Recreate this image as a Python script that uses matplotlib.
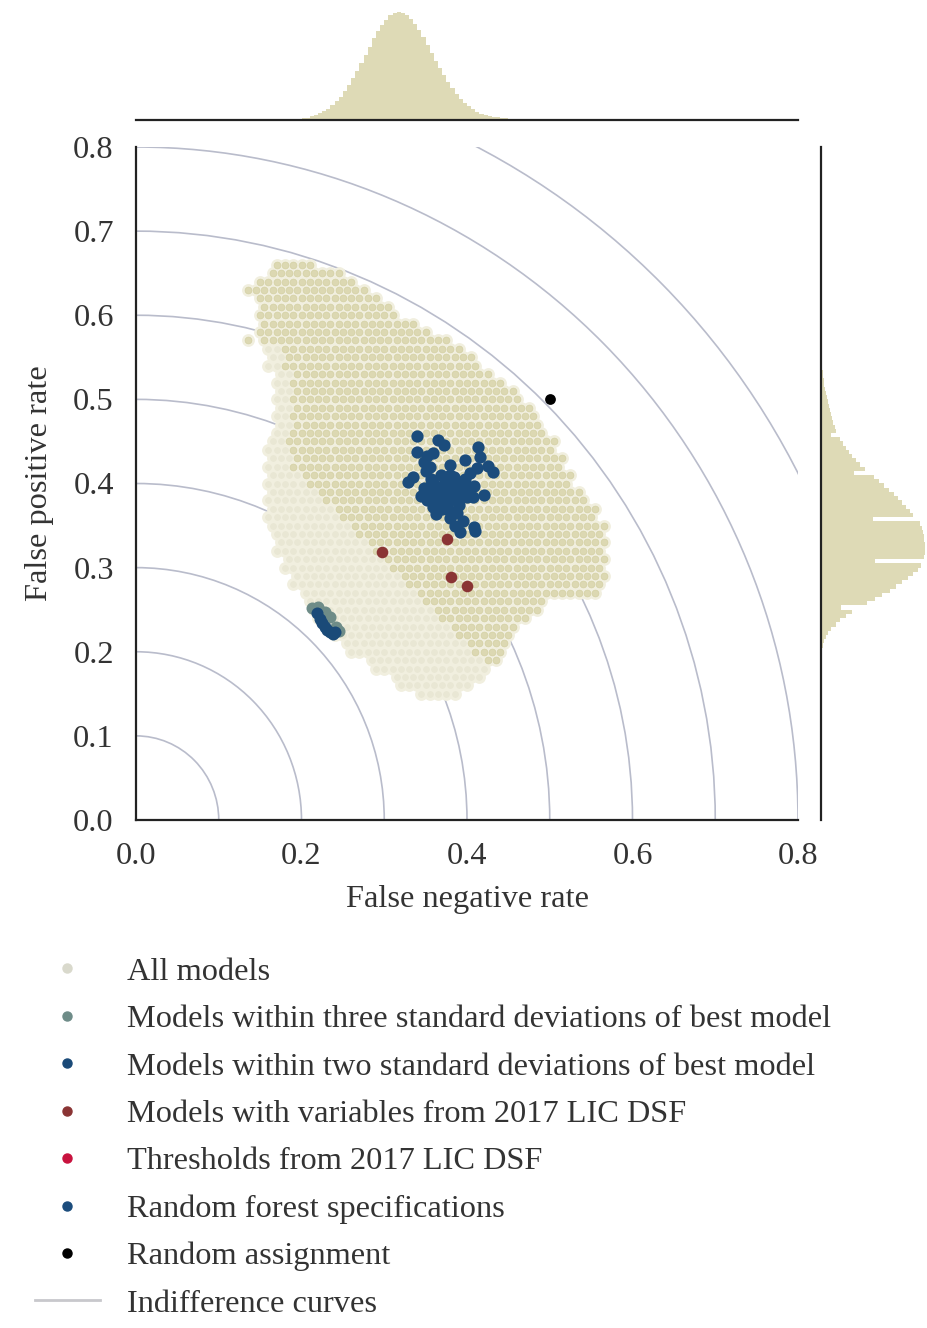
import numpy as np
import matplotlib
matplotlib.use('Agg')
import matplotlib.pyplot as plt
from matplotlib.patches import Arc
from matplotlib.lines import Line2D

plt.rcParams['font.family'] = ['Liberation Serif', 'DejaVu Serif']

# ---------------- data ----------------
# "All models" cloud, read from the picture as a point mask:
# one character per model, '#' = regular point, '+' = point in the paler zone.
cloud_x0 = 0.10
cloud_y0 = 0.66
cloud_step = 0.01
cloud_rows = [
    ".......#####",
    "......#########",
    ".....############",
    "...###############",
    ".....###############",
    ".....################",
    ".....#################",
    ".....###################",
    ".....#####################",
    "...#.#######################",
    "......++######################",
    "......++#######################",
    "......++########################",
    ".......++########################",
    ".......++##########################",
    ".......++###########################",
    ".......++############################",
    ".......++#############################",
    ".......++##############################",
    ".......++##############################",
    ".......++###############################",
    "......++#################################",
    "......+++################################",
    "......+++#################################",
    "......+++#################################",
    "......++++#################################",
    "......+++++################################",
    "......++++++################################",
    "......+++++++################################",
    "......++++++++################################",
    "......+++++++++###############################",
    "......++++++++++###############################",
    ".......++++++++++##############################",
    ".......+++++++++++#############################",
    ".......++++++++++++############################",
    "........++++++++++++###########################",
    "........+++++++++++++##########################",
    ".........+++++++++++++#########################",
    ".........++++++++++++++########################",
    "..........++++++++++++++######################",
    "...........++++++++++++++###############",
    "...........+++++++++++++++#############",
    "............+++++++++++++++###########",
    ".............+++++++++++++++########",
    "..............+++++++++++++++#######",
    "...............+++++++++++++++#####",
    "................+++++++++++++++####",
    "..................++++++++++++++##",
    "...................++++++++++++++",
    ".....................+++++++++++",
    "......................+++++++++",
    "........................+++++",
]

# marginal histograms (relative heights, bin width 0.005)
fnr_bin_centers = [0.1925, 0.1975, 0.2025, 0.2075, 0.2125, 0.2175, 0.2225, 0.2275, 0.2325, 0.2375,
                   0.2425, 0.2475, 0.2525, 0.2575, 0.2625, 0.2675, 0.2725, 0.2775, 0.2825, 0.2875,
                   0.2925, 0.2975, 0.3025, 0.3075, 0.3125, 0.3175, 0.3225, 0.3275, 0.3325, 0.3375,
                   0.3425, 0.3475, 0.3525, 0.3575, 0.3625, 0.3675, 0.3725, 0.3775, 0.3825, 0.3875,
                   0.3925, 0.3975, 0.4025, 0.4075, 0.4125, 0.4175, 0.4225, 0.4275, 0.4325, 0.4375,
                   0.4425, 0.4475, 0.4525, 0.4575]
fnr_counts = [0.8, 1.1, 1.7, 2.3, 3.3, 4.4, 6.1, 8, 10.5, 13.5,
              17.3, 21.6, 26.8, 32.5, 39, 45.8, 53, 60.6, 68, 75.5,
              82, 88.2, 93, 96.9, 99, 100, 99, 97, 93.5, 89,
              83.5, 77, 69.5, 62, 55, 48, 41.5, 35, 29.5, 24,
              19.8, 16, 12.8, 10, 7.8, 6, 4.8, 4, 3.1, 2.5,
              1.9, 1.5, 1.2, 0.8]

fpr_bin_centers = [0.2025, 0.2075, 0.2125, 0.2175, 0.2225, 0.2275, 0.2325, 0.2375, 0.2425, 0.2475,
                   0.2525, 0.2575, 0.2625, 0.2675, 0.2725, 0.2775, 0.2825, 0.2875, 0.2925, 0.2975,
                   0.3025, 0.3075, 0.3125, 0.3175, 0.3225, 0.3275, 0.3325, 0.3375, 0.3425, 0.3475,
                   0.3525, 0.3575, 0.3625, 0.3675, 0.3725, 0.3775, 0.3825, 0.3875, 0.3925, 0.3975,
                   0.4025, 0.4075, 0.4125, 0.4175, 0.4225, 0.4275, 0.4325, 0.4375, 0.4425, 0.4475,
                   0.4525, 0.4575, 0.4625, 0.4675, 0.4725, 0.4775, 0.4825, 0.4875, 0.4925, 0.4975,
                   0.5025, 0.5075, 0.5125, 0.5175, 0.5225, 0.5275, 0.5325, 0.5375, 0.5425, 0.5475]
fpr_counts = [1, 2, 3, 5, 7, 10, 14, 18, 24, 30,
              19, 44, 52, 59, 66, 72, 78, 84, 89, 93,
              96, 52, 99, 100, 100, 100, 99.5, 99, 98, 97,
              95, 50, 89, 86, 82, 78, 74, 70, 65, 61,
              56, 51, 32, 42, 38, 34, 30, 27, 24, 21,
              18, 10, 14, 13, 12, 11, 10, 9, 8, 7,
              6, 5, 4, 3, 2.5, 2, 1.5, 1, 0.7, 0.5]

# Models within three standard deviations of best model
three_sd_x = [0.213, 0.220, 0.228, 0.234, 0.242, 0.245]
three_sd_y = [0.252, 0.253, 0.247, 0.241, 0.230, 0.225]

# Models within two standard deviations of best model
two_sd_x = [0.219, 0.222, 0.225, 0.228, 0.231, 0.235, 0.238, 0.241]
two_sd_y = [0.246, 0.239, 0.234, 0.230, 0.226, 0.223, 0.221, 0.224]

# Models with variables from 2017 LIC DSF
lic_var_x = [0.297, 0.376, 0.381, 0.400]
lic_var_y = [0.318, 0.334, 0.289, 0.278]

# Thresholds from 2017 LIC DSF (not visible in the plot area)
thresh_x = []
thresh_y = []

# Random forest specifications
rf_x = [0.339, 0.365, 0.372, 0.340, 0.352, 0.359, 0.348, 0.379, 0.398, 0.413,
        0.416, 0.425, 0.431, 0.329, 0.335, 0.350, 0.356, 0.348, 0.358, 0.352,
        0.362, 0.366, 0.368, 0.374, 0.376, 0.372, 0.382, 0.386, 0.390, 0.394,
        0.398, 0.404, 0.408, 0.400, 0.412, 0.384, 0.378, 0.366, 0.357, 0.420,
        0.407, 0.379, 0.388, 0.392, 0.408, 0.410, 0.359, 0.395, 0.385, 0.362,
        0.370, 0.380, 0.391, 0.402, 0.345, 0.355, 0.360, 0.370, 0.380, 0.370,
        0.390, 0.355, 0.380, 0.360, 0.390, 0.375]
rf_y = [0.456, 0.452, 0.446, 0.437, 0.433, 0.436, 0.425, 0.422, 0.428, 0.443,
        0.432, 0.421, 0.414, 0.402, 0.408, 0.415, 0.405, 0.395, 0.388, 0.380,
        0.372, 0.395, 0.410, 0.402, 0.388, 0.378, 0.396, 0.384, 0.374, 0.392,
        0.405, 0.413, 0.397, 0.384, 0.418, 0.408, 0.368, 0.380, 0.398, 0.386,
        0.384, 0.359, 0.365, 0.342, 0.348, 0.343, 0.372, 0.355, 0.350, 0.364,
        0.385, 0.380, 0.402, 0.395, 0.385, 0.420, 0.400, 0.390, 0.380, 0.370,
        0.390, 0.390, 0.410, 0.380, 0.380, 0.395]

# Random assignment
random_x = [0.5]
random_y = [0.5]

# Indifference curves (radii)
indiff_radii = [0.1, 0.2, 0.3, 0.4, 0.5, 0.6, 0.7, 0.8, 0.9]

legend_labels = [
    "All models",
    "Models within three standard deviations of best model",
    "Models within two standard deviations of best model",
    "Models with variables from 2017 LIC DSF",
    "Thresholds from 2017 LIC DSF",
    "Random forest specifications",
    "Random assignment",
    "Indifference curves",
]

# ---------------- decode cloud ----------------
reg_x, reg_y, pale_x, pale_y = [], [], [], []
for i, row in enumerate(cloud_rows):
    for j, ch in enumerate(row):
        x = cloud_x0 + cloud_step * j + (cloud_step / 2 if i % 2 else 0.0)
        y = cloud_y0 - cloud_step * i
        if ch == '#':
            reg_x.append(x); reg_y.append(y)
        elif ch == '+':
            pale_x.append(x); pale_y.append(y)

# ---------------- colours ----------------
c_hist = '#dedab6'
c_under = '#f1efdf'
c_dot = '#dcd8b2'
c_dot_pale = '#e9e7d4'
c_all_leg = '#d9d9cc'
c_3sd = '#6e8c88'
c_2sd = '#1a4a78'
c_var = '#8a3434'
c_thr = '#c8123e'
c_rf = '#1b4c7c'
c_curve = '#b9bccb'

FS = 23.3

fig = plt.figure(figsize=(9.27, 13.28), dpi=100)
W, H = 927, 1328
ax = fig.add_axes([136 / W, 1 - 820 / H, 662 / W, 673 / H])
ax_top = fig.add_axes([136 / W, 1 - 120 / H, 662 / W, 112 / H], sharex=ax)
ax_right = fig.add_axes([821 / W, 1 - 820 / H, 106 / W, 673 / H], sharey=ax)

# indifference curves
for r in indiff_radii:
    ax.add_patch(Arc((0, 0), 2 * r, 2 * r, theta1=0, theta2=90,
                     color=c_curve, lw=1.2, zorder=1))

all_x = reg_x + pale_x
all_y = reg_y + pale_y
ax.scatter(all_x, all_y, s=85, color=c_under, linewidths=0, zorder=2)
ax.scatter(pale_x, pale_y, s=24, color=c_dot_pale, linewidths=0, zorder=3)
ax.scatter(reg_x, reg_y, s=24, color=c_dot, edgecolors='#d4d0a3', linewidths=0.5, zorder=3)

ax.scatter(three_sd_x, three_sd_y, s=75, color=c_3sd, linewidths=0, zorder=4)
ax.scatter(two_sd_x, two_sd_y, s=75, color=c_2sd, linewidths=0, zorder=5)
ax.scatter(lic_var_x, lic_var_y, s=70, color=c_var, linewidths=0, zorder=5)
ax.scatter(thresh_x, thresh_y, s=70, color=c_thr, linewidths=0, zorder=5)
ax.scatter(rf_x, rf_y, s=78, color=c_rf, linewidths=0, zorder=5)
ax.scatter(random_x, random_y, s=60, color='black', linewidths=0, zorder=6)

ax.set_xlim(0, 0.8)
ax.set_ylim(0, 0.8)
ax.set_xticks([0.0, 0.2, 0.4, 0.6, 0.8])
ax.set_xticklabels(['0.0', '0.2', '0.4', '0.6', '0.8'])
ax.set_yticks([0.0, 0.1, 0.2, 0.3, 0.4, 0.5, 0.6, 0.7, 0.8])
ax.set_yticklabels(['0.0', '0.1', '0.2', '0.3', '0.4', '0.5', '0.6', '0.7', '0.8'])
ax.tick_params(length=0, labelsize=FS, pad=16, colors='#333333')
for s in ['top', 'right']:
    ax.spines[s].set_visible(False)
for s in ['left', 'bottom']:
    ax.spines[s].set_linewidth(1.6)
    ax.spines[s].set_color('#222222')
ax.set_xlabel('False negative rate', fontsize=FS, color='#333333', labelpad=10)
ax.set_ylabel('False positive rate', fontsize=FS, color='#333333', labelpad=14)

# top marginal
ax_top.bar(fnr_bin_centers, fnr_counts, width=0.005, color=c_hist, linewidth=0)
ax_top.set_ylim(0, 103.7)
for s in ['top', 'right', 'left']:
    ax_top.spines[s].set_visible(False)
ax_top.spines['bottom'].set_linewidth(1.6)
ax_top.spines['bottom'].set_color('#222222')
ax_top.tick_params(left=False, bottom=False, labelleft=False, labelbottom=False)

# right marginal
ax_right.barh(fpr_bin_centers, fpr_counts, height=0.005, color=c_hist, linewidth=0)
ax_right.set_xlim(0, 102)
for s in ['top', 'right', 'bottom']:
    ax_right.spines[s].set_visible(False)
ax_right.spines['left'].set_linewidth(1.6)
ax_right.spines['left'].set_color('#222222')
ax_right.tick_params(left=False, bottom=False, labelleft=False, labelbottom=False)

# legend
ms = 6.5
handles = [
    Line2D([], [], ls='none', marker='o', ms=ms, color=c_all_leg),
    Line2D([], [], ls='none', marker='o', ms=ms, color=c_3sd),
    Line2D([], [], ls='none', marker='o', ms=ms, color=c_2sd),
    Line2D([], [], ls='none', marker='o', ms=ms, color=c_var),
    Line2D([], [], ls='none', marker='o', ms=ms, color=c_thr),
    Line2D([], [], ls='none', marker='o', ms=ms, color=c_rf),
    Line2D([], [], ls='none', marker='o', ms=ms, color='black'),
    Line2D([], [], color='#c8c8cc', lw=2),
]
fig.legend(handles, legend_labels, loc='upper left',
           bbox_to_anchor=(35 / W, 1 - 957 / H), frameon=False,
           fontsize=FS, borderpad=0, borderaxespad=0,
           handlelength=2.0, handletextpad=0.83, labelspacing=0.55,
           labelcolor='#333333')

fig.savefig('out.png', dpi=100)
